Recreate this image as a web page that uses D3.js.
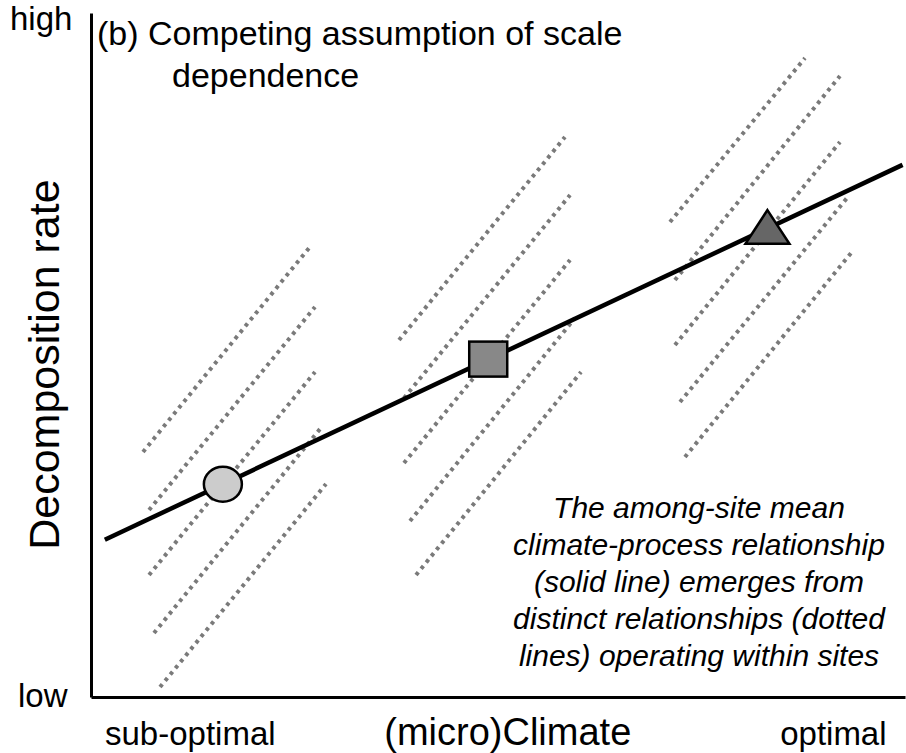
<!DOCTYPE html>
<html>
<head>
<meta charset="utf-8">
<script src="https://d3js.org/d3.v7.min.js"></script>
<style>
body { margin: 0; background: #fff; }
svg { display: block; font-family: Arial, "Liberation Sans", sans-serif; }
</style>
</head>
<body>
<svg id="chart" width="906" height="753"></svg>
<script>
// conceptual axes, 0..100 on both (no numeric ticks in the figure)
const xTickLabels = ["sub-optimal", "optimal"];
const yTickLabels = ["low", "high"];

// among-site mean climate-process relationship (solid line)
const meanX = [1.7, 99.7];
const meanY = [23.0, 77.8];

// site means
const siteX = [16.2, 48.8, 83.1];
const siteY = [31.1, 49.4, 67.9];
const siteShape = ["circle", "square", "triangle"];

// within-site relationships (dotted lines), [x0, y0, x1, y1]
const site1Lines = [
  [6.39, 35.82, 26.78, 65.64],
  [7.13, 27.34, 27.52, 57.02],
  [7.13, 17.84, 27.52, 47.51],
  [7.74, 9.36, 28.13, 39.18],
  [8.48, 1.46, 28.87, 31.14]
];
const site2Lines = [
  [37.84, 52.19, 58.23, 81.87],
  [38.45, 43.71, 58.85, 73.39],
  [38.45, 34.21, 58.85, 63.89],
  [39.19, 25.73, 59.46, 55.41],
  [39.93, 17.84, 60.20, 47.51]
];
const site3Lines = [
  [71.13, 69.44, 87.71, 93.42],
  [71.74, 60.96, 92.01, 90.79],
  [71.74, 51.46, 92.01, 81.14],
  [72.36, 43.13, 92.87, 72.95],
  [72.97, 35.09, 93.37, 64.91]
];

const noteLines = [
  "The among-site mean",
  "climate-process relationship",
  "(solid line) emerges from",
  "distinct relationships (dotted",
  "lines) operating within sites"
];

const svg = d3.select("#chart");
const x = d3.scaleLinear().domain([0, 100]).range([91, 905]);
const y = d3.scaleLinear().domain([0, 100]).range([697, 13]);

// dotted within-site lines
const dotted = site1Lines.concat(site2Lines, site3Lines);
svg.append("g").selectAll("line").data(dotted).enter().append("line")
  .attr("x1", d => x(d[0])).attr("y1", d => y(d[1]))
  .attr("x2", d => x(d[2])).attr("y2", d => y(d[3]))
  .attr("stroke", "#7a7a7a")
  .attr("stroke-width", 4)
  .attr("stroke-dasharray", "3.6,4.5");

// solid mean line
svg.append("path")
  .datum(meanX.map((v, i) => [v, meanY[i]]))
  .attr("fill", "none")
  .attr("stroke", "#000")
  .attr("stroke-width", 4.5)
  .attr("d", d3.line().x(d => x(d[0])).y(d => y(d[1])));

// site markers
const sites = siteX.map((v, i) => ({x: v, y: siteY[i], shape: siteShape[i]}));
const mk = svg.append("g").selectAll("g").data(sites).enter().append("g")
  .attr("transform", d => "translate(" + x(d.x) + "," + y(d.y) + ")");
mk.filter(d => d.shape == "circle").append("ellipse")
  .attr("rx", 19).attr("ry", 17.5)
  .attr("fill", "#cccccc").attr("stroke", "#000").attr("stroke-width", 2.5);
mk.filter(d => d.shape == "square").append("rect")
  .attr("x", -19).attr("y", -17.5).attr("width", 38).attr("height", 35)
  .attr("fill", "#888888").attr("stroke", "#000").attr("stroke-width", 2.5);
mk.filter(d => d.shape == "triangle").append("path")
  .attr("d", "M0,-22.5L22,11.3L-22,11.3Z")
  .attr("fill", "#666666").attr("stroke", "#000").attr("stroke-width", 2.5)
  .attr("stroke-linejoin", "miter");

// axes (domain lines only)
svg.append("g").attr("transform", "translate(0," + y(0) + ")")
  .call(d3.axisBottom(x).tickValues([]).tickSizeOuter(0));
svg.append("g").attr("transform", "translate(" + x(0) + ",0)")
  .call(d3.axisLeft(y).tickValues([]).tickSizeOuter(0));
svg.selectAll(".domain").attr("stroke", "#000").attr("stroke-width", 3);

// axis end labels
svg.append("text").attr("x", 10).attr("y", 30).attr("font-size", 33).text(yTickLabels[1]);
svg.append("text").attr("x", 18).attr("y", 707).attr("font-size", 33).text(yTickLabels[0]);
svg.append("text").attr("x", x(12.2)).attr("y", 745).attr("text-anchor", "middle")
  .attr("font-size", 33).text(xTickLabels[0]);
svg.append("text").attr("x", x(91.2)).attr("y", 745).attr("text-anchor", "middle")
  .attr("font-size", 33).text(xTickLabels[1]);

// axis titles
svg.append("text").attr("x", x(51.2)).attr("y", 745).attr("text-anchor", "middle")
  .attr("font-size", 38).text("(micro)Climate");
svg.append("text").attr("transform", "translate(59," + y(48.6) + ") rotate(-90)")
  .attr("text-anchor", "middle").attr("font-size", 43).text("Decomposition rate");

// panel title
svg.append("text").attr("x", 97).attr("y", 45).attr("font-size", 34)
  .text("(b) Competing assumption of scale");
svg.append("text").attr("x", 172).attr("y", 87).attr("font-size", 34)
  .text("dependence");

// note
svg.append("g").selectAll("text").data(noteLines).enter().append("text")
  .attr("x", 699).attr("y", (d, i) => 518 + i * 37)
  .attr("text-anchor", "middle").attr("font-style", "italic").attr("font-size", 30)
  .text(d => d);
</script>
</body>
</html>
